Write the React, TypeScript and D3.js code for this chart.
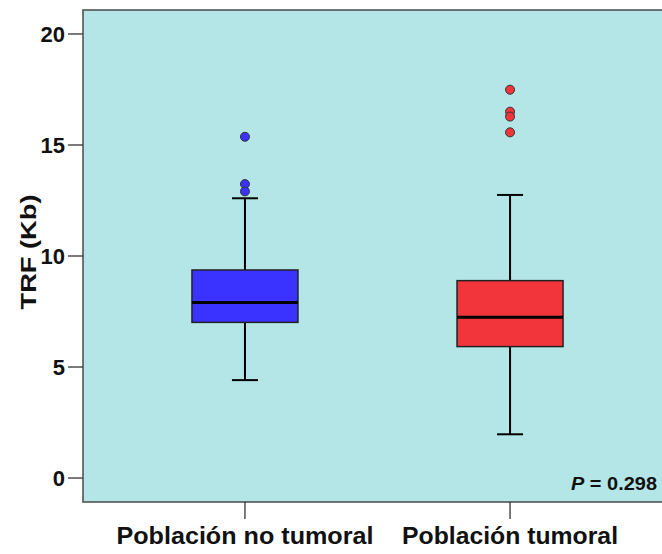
import React from "react";
import * as d3 from "d3";

// Box-plot summaries for telomere restriction fragment length (Kb)
const groups = ["Población no tumoral", "Población tumoral"];
const q1 = [7.01, 5.92];
const medians = [7.91, 7.24];
const q3 = [9.37, 8.89];
const whiskerLow = [4.41, 1.97];
const whiskerHigh = [12.6, 12.75];
const outliers = [
  [15.37, 13.24, 12.91],
  [17.49, 16.5, 16.28, 15.57],
];
const fills = ["#3a33ff", "#f2343b"];
const yTicks = [0, 5, 10, 15, 20];

const W = 662;
const H = 554;
const plot = { left: 83, top: 10, right: 672, bottom: 502 };

export default function App() {
  const y = d3.scaleLinear().domain([-1.08, 21.08]).range([plot.bottom, plot.top]);
  const x = d3.scalePoint<string>().domain(groups).range([plot.left, plot.right]).padding(0.611);
  const boxW = 106;
  const capW = 26;
  const font = "'Liberation Sans', Arial, sans-serif";
  // widths of the wide bold category labels
  const labelWidths = [257, 216];

  return (
    <svg width={W} height={H} style={{ position: "absolute", left: 0, top: 0 }} fontFamily={font}>
      <rect x={0} y={0} width={W} height={H} fill="#ffffff" />
      <rect
        x={plot.left}
        y={plot.top}
        width={W - plot.left + 2}
        height={plot.bottom - plot.top}
        fill="#b4e6e7"
        stroke="#4a4a4a"
        strokeWidth={1.5}
      />
      {/* y axis ticks */}
      {yTicks.map((t) => (
        <g key={t}>
          <line x1={plot.left - 15} x2={plot.left} y1={y(t)} y2={y(t)} stroke="#333" strokeWidth={1.3} />
          <text
            x={plot.left - 18}
            y={y(t)}
            dy="0.36em"
            textAnchor="end"
            fontSize={22}
            fontWeight="bold"
            fill="#111"
          >
            {t}
          </text>
        </g>
      ))}
      <text
        transform={`translate(36,252) rotate(-90)`}
        textAnchor="middle"
        fontSize={22}
        fontWeight="bold"
        fill="#111"
        textLength={115}
        lengthAdjust="spacingAndGlyphs"
      >
        TRF (Kb)
      </text>
      {/* x axis ticks and category labels */}
      {groups.map((g, i) => (
        <g key={g}>
          <line x1={x(g)} x2={x(g)} y1={plot.bottom} y2={plot.bottom + 17} stroke="#333" strokeWidth={1.3} />
          <text
            x={x(g)}
            y={plot.bottom + 42}
            textAnchor="middle"
            fontSize={23}
            fontWeight="bold"
            fill="#111"
            textLength={labelWidths[i]}
            lengthAdjust="spacingAndGlyphs"
          >
            {g}
          </text>
        </g>
      ))}
      {/* boxes */}
      {groups.map((g, i) => {
        const cx = x(g) as number;
        return (
          <g key={g}>
            <line x1={cx} x2={cx} y1={y(whiskerHigh[i])} y2={y(q3[i])} stroke="#000" strokeWidth={2} />
            <line x1={cx} x2={cx} y1={y(q1[i])} y2={y(whiskerLow[i])} stroke="#000" strokeWidth={2} />
            <line
              x1={cx - capW / 2}
              x2={cx + capW / 2}
              y1={y(whiskerHigh[i])}
              y2={y(whiskerHigh[i])}
              stroke="#000"
              strokeWidth={2}
            />
            <line
              x1={cx - capW / 2}
              x2={cx + capW / 2}
              y1={y(whiskerLow[i])}
              y2={y(whiskerLow[i])}
              stroke="#000"
              strokeWidth={2}
            />
            <rect
              x={cx - boxW / 2}
              y={y(q3[i])}
              width={boxW}
              height={y(q1[i]) - y(q3[i])}
              fill={fills[i]}
              stroke="#222"
              strokeWidth={1.5}
            />
            <line
              x1={cx - boxW / 2}
              x2={cx + boxW / 2}
              y1={y(medians[i])}
              y2={y(medians[i])}
              stroke="#000"
              strokeWidth={3}
            />
            {outliers[i].map((v, j) => (
              <circle key={j} cx={cx} cy={y(v)} r={4.5} fill={fills[i]} stroke="#333" strokeWidth={1} />
            ))}
          </g>
        );
      })}
      <text
        x={571}
        y={490}
        fontSize={18.5}
        fontWeight="bold"
        fill="#111"
        textLength={86}
        lengthAdjust="spacingAndGlyphs"
      >
        <tspan fontStyle="italic">P</tspan>
        <tspan> = 0.298</tspan>
      </text>
    </svg>
  );
}
